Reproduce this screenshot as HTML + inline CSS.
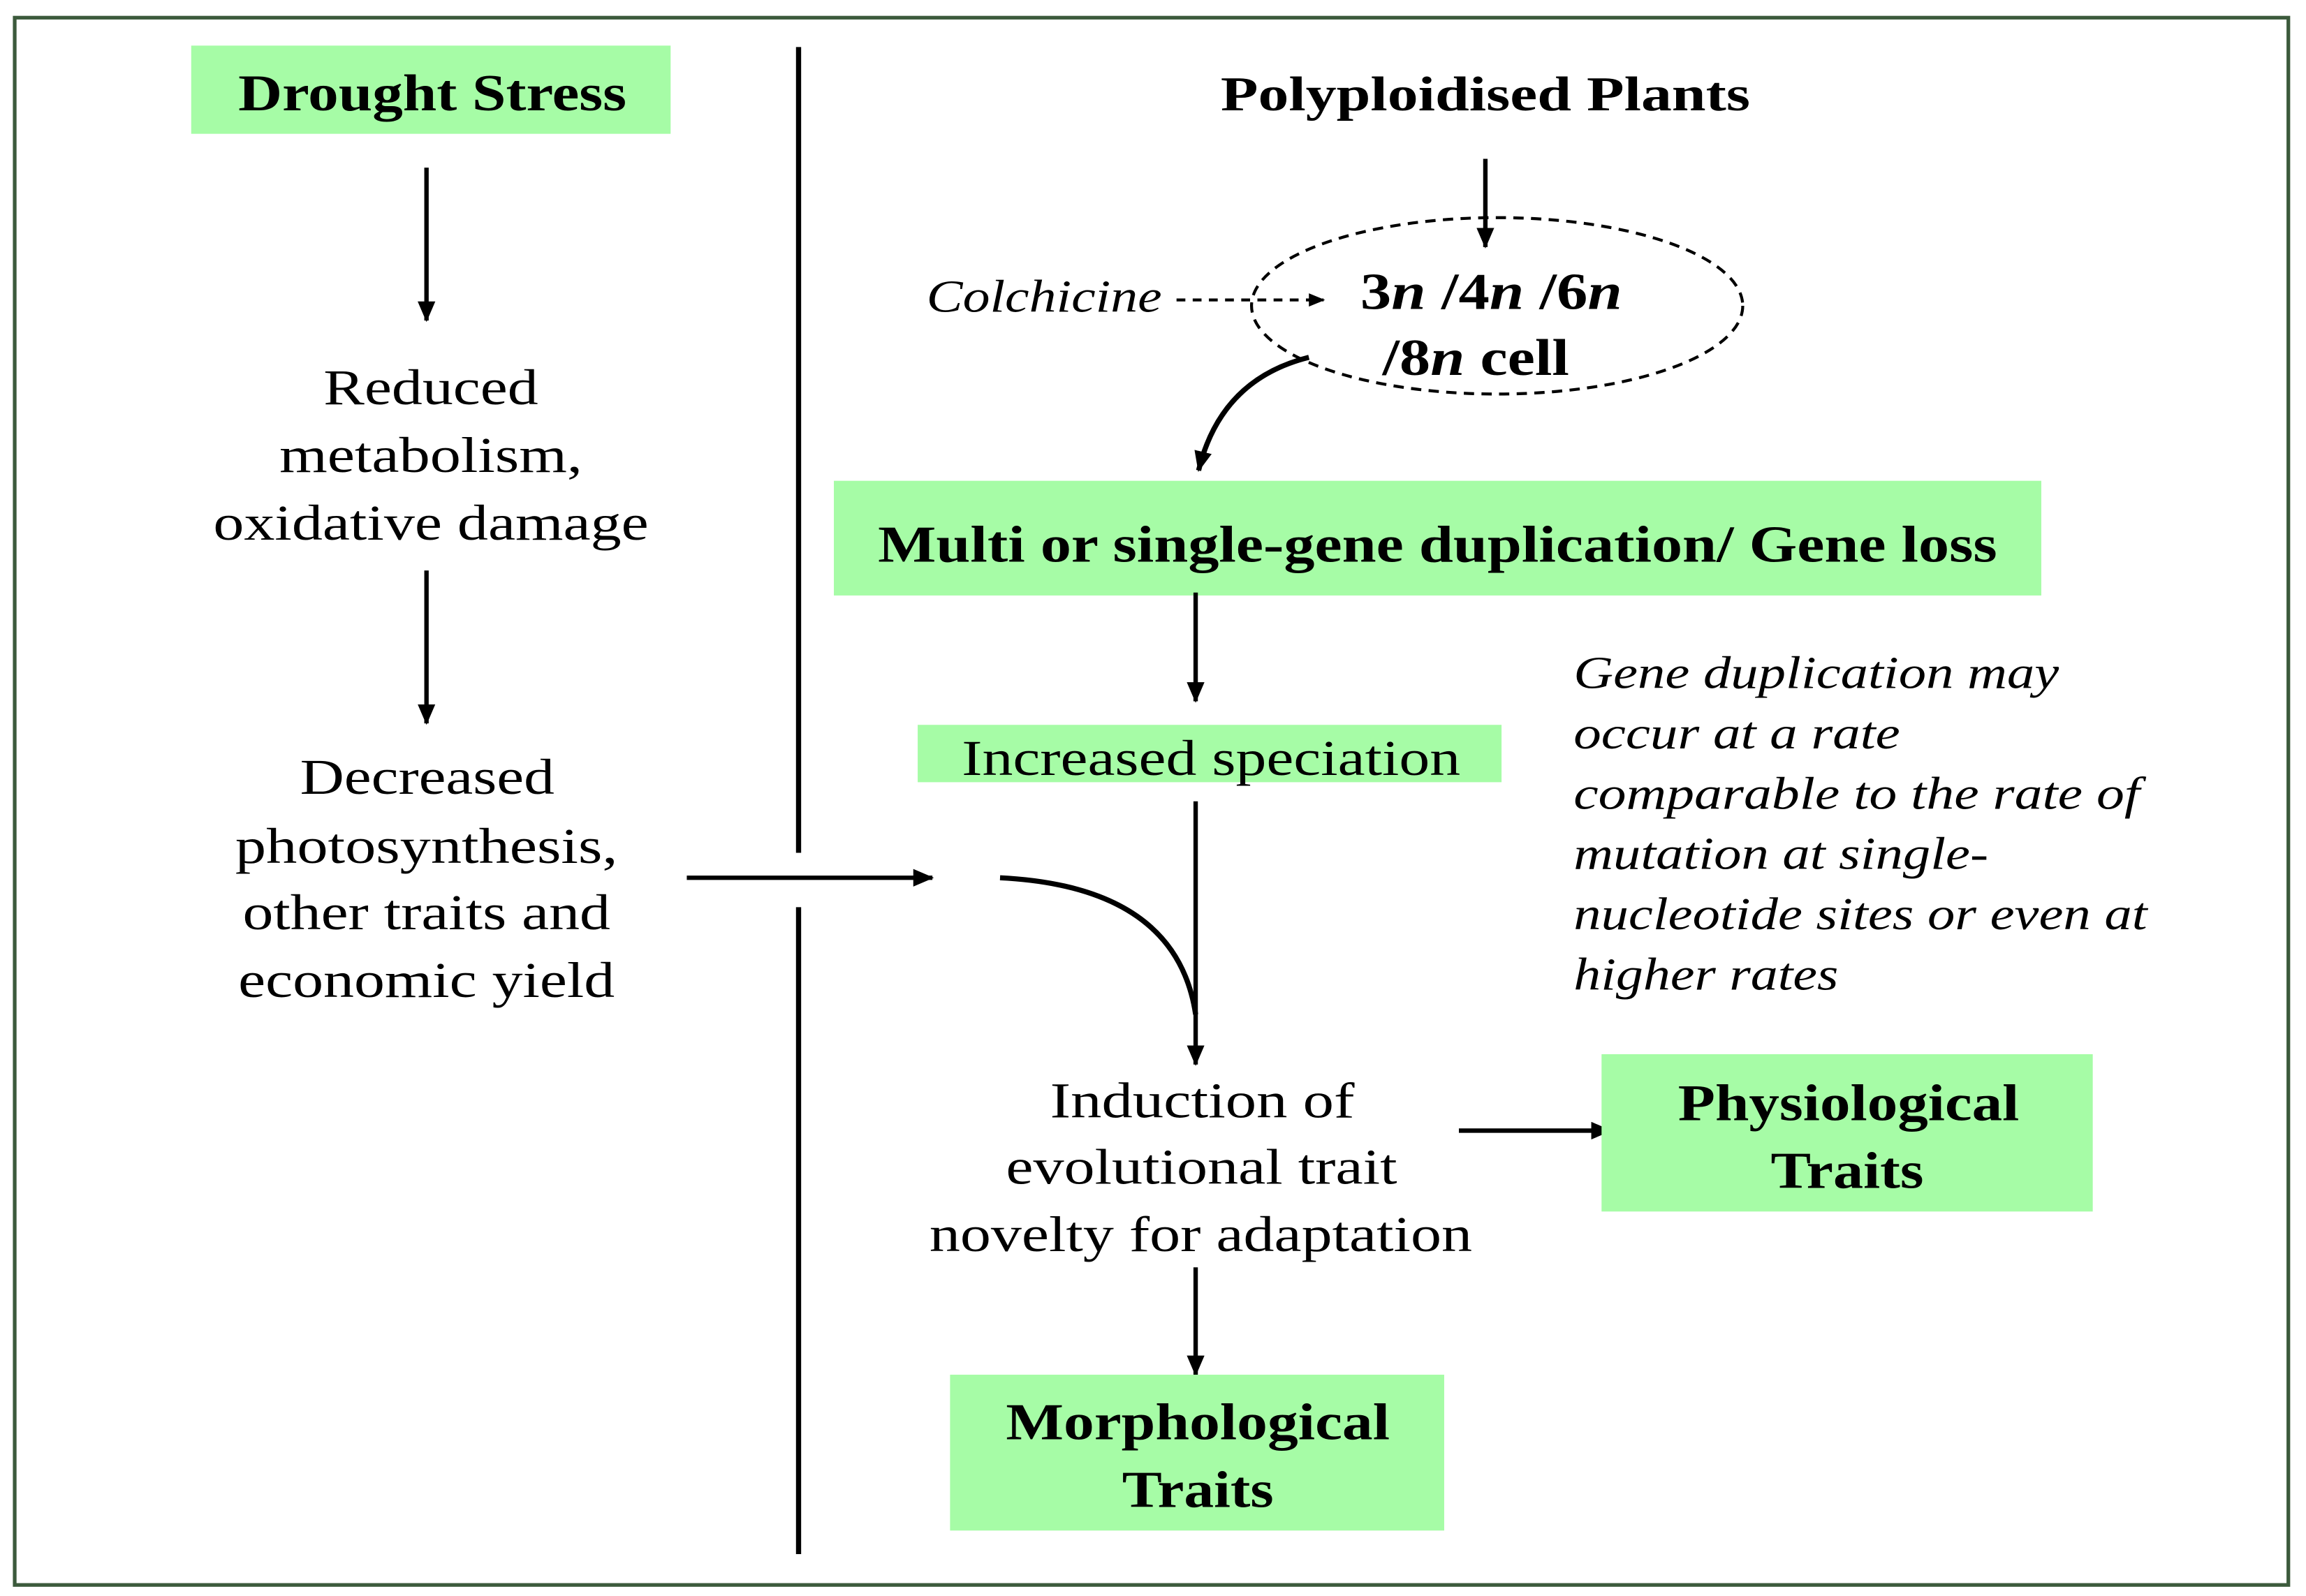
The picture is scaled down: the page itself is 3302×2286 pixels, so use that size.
<!DOCTYPE html>
<html><head><meta charset="utf-8"><style>html,body{margin:0;padding:0;background:#fff}svg{display:block}</style></head>
<body>
<svg width="3302" height="2286" viewBox="0 0 1568 1085.5" xmlns="http://www.w3.org/2000/svg" font-family="'Liberation Serif', serif">
<defs>
<marker id="ah" markerWidth="14" markerHeight="12" refX="13" refY="6" orient="auto" markerUnits="userSpaceOnUse"><path d="M0,0 L14,6 L0,12 z" fill="#000"/></marker>
<marker id="ahs" markerWidth="11" markerHeight="9" refX="10" refY="4.5" orient="auto" markerUnits="userSpaceOnUse"><path d="M0,0 L11,4.5 L0,9 z" fill="#000"/></marker>
</defs>
<rect x="10" y="12" width="1546" height="1066" fill="none" stroke="#3c5a3c" stroke-width="2.5"/>
<g lengthAdjust="spacingAndGlyphs">
<rect x="130" y="31" width="326" height="60" fill="#a6fca6"/>
<text x="162" y="75" font-size="35" font-weight="bold" textLength="264" lengthAdjust="spacingAndGlyphs">Drought Stress</text>
<line x1="290" y1="114" x2="290" y2="218" stroke="#000" stroke-width="3" marker-end="url(#ah)"/>
<g font-size="34">
<text x="220" y="275" textLength="146" lengthAdjust="spacingAndGlyphs">Reduced</text>
<text x="190" y="321" textLength="206" lengthAdjust="spacingAndGlyphs">metabolism,</text>
<text x="145" y="367" textLength="296" lengthAdjust="spacingAndGlyphs">oxidative damage</text>
</g>
<line x1="290" y1="388" x2="290" y2="492" stroke="#000" stroke-width="3" marker-end="url(#ah)"/>
<g font-size="34">
<text x="204" y="540" textLength="173" lengthAdjust="spacingAndGlyphs">Decreased</text>
<text x="160" y="587" textLength="260" lengthAdjust="spacingAndGlyphs">photosynthesis,</text>
<text x="165" y="632" textLength="250" lengthAdjust="spacingAndGlyphs">other traits and</text>
<text x="162" y="678" textLength="256" lengthAdjust="spacingAndGlyphs">economic yield</text>
</g>
<line x1="543" y1="32" x2="543" y2="580" stroke="#000" stroke-width="3.5"/>
<line x1="543" y1="617" x2="543" y2="1057" stroke="#000" stroke-width="3.5"/>
<line x1="467" y1="597" x2="634" y2="597" stroke="#000" stroke-width="3" marker-end="url(#ah)"/>
<path d="M680,597 Q800,603 813,690" fill="none" stroke="#000" stroke-width="3.5"/>
<text x="830" y="75" font-size="33" font-weight="bold" textLength="360" lengthAdjust="spacingAndGlyphs">Polyploidised Plants</text>
<line x1="1010" y1="108" x2="1010" y2="168" stroke="#000" stroke-width="3" marker-end="url(#ah)"/>
<ellipse cx="1018" cy="208" rx="167" ry="60" fill="none" stroke="#000" stroke-width="2" stroke-dasharray="7,5"/>
<text x="630" y="212" font-size="31" font-style="italic" textLength="160" lengthAdjust="spacingAndGlyphs">Colchicine</text>
<line x1="800" y1="204" x2="900" y2="204" stroke="#000" stroke-width="2" stroke-dasharray="6,5" marker-end="url(#ahs)"/>
<text x="925" y="210" font-size="35" font-weight="bold" textLength="178" lengthAdjust="spacingAndGlyphs">3<tspan font-style="italic">n</tspan> /4<tspan font-style="italic">n</tspan> /6<tspan font-style="italic">n</tspan></text>
<text x="940" y="255" font-size="35" font-weight="bold" textLength="127" lengthAdjust="spacingAndGlyphs">/8<tspan font-style="italic">n</tspan> cell</text>
<path d="M890,243 Q830,258 815,320" fill="none" stroke="#000" stroke-width="3.5" marker-end="url(#ah)"/>
<rect x="567" y="327" width="821" height="78" fill="#a6fca6"/>
<text x="597" y="382" font-size="35" font-weight="bold" textLength="761" lengthAdjust="spacingAndGlyphs">Multi or single-gene duplication/ Gene loss</text>
<line x1="813" y1="403" x2="813" y2="477" stroke="#000" stroke-width="3" marker-end="url(#ah)"/>
<rect x="624" y="493" width="397" height="39" fill="#a6fca6"/>
<text x="654" y="527" font-size="34" textLength="339" lengthAdjust="spacingAndGlyphs">Increased speciation</text>
<line x1="813" y1="545" x2="813" y2="724" stroke="#000" stroke-width="3" marker-end="url(#ah)"/>
<g font-size="31" font-style="italic">
<text x="1070" y="468" textLength="330" lengthAdjust="spacingAndGlyphs">Gene duplication may</text>
<text x="1070" y="509" textLength="222" lengthAdjust="spacingAndGlyphs">occur at a rate</text>
<text x="1070" y="550" textLength="385" lengthAdjust="spacingAndGlyphs">comparable to the rate of</text>
<text x="1070" y="591" textLength="282" lengthAdjust="spacingAndGlyphs">mutation at single-</text>
<text x="1070" y="632" textLength="390" lengthAdjust="spacingAndGlyphs">nucleotide sites or even at</text>
<text x="1070" y="673" textLength="180" lengthAdjust="spacingAndGlyphs">higher rates</text>
</g>
<g font-size="34">
<text x="714" y="760" textLength="207" lengthAdjust="spacingAndGlyphs">Induction of</text>
<text x="684" y="805" textLength="266" lengthAdjust="spacingAndGlyphs">evolutional trait</text>
<text x="632" y="851" textLength="369" lengthAdjust="spacingAndGlyphs">novelty for adaptation</text>
</g>
<line x1="992" y1="769" x2="1095" y2="769" stroke="#000" stroke-width="3" marker-end="url(#ah)"/>
<rect x="1089" y="717" width="334" height="107" fill="#a6fca6"/>
<text x="1141" y="762" font-size="35" font-weight="bold" textLength="232" lengthAdjust="spacingAndGlyphs">Physiological</text>
<text x="1204" y="808" font-size="35" font-weight="bold" textLength="104" lengthAdjust="spacingAndGlyphs">Traits</text>
<line x1="813" y1="862" x2="813" y2="935" stroke="#000" stroke-width="3" marker-end="url(#ah)"/>
<rect x="646" y="935" width="336" height="106" fill="#a6fca6"/>
<text x="684" y="979" font-size="35" font-weight="bold" textLength="261" lengthAdjust="spacingAndGlyphs">Morphological</text>
<text x="763" y="1025" font-size="35" font-weight="bold" textLength="103" lengthAdjust="spacingAndGlyphs">Traits</text>
</g>
</svg>
</body></html>
